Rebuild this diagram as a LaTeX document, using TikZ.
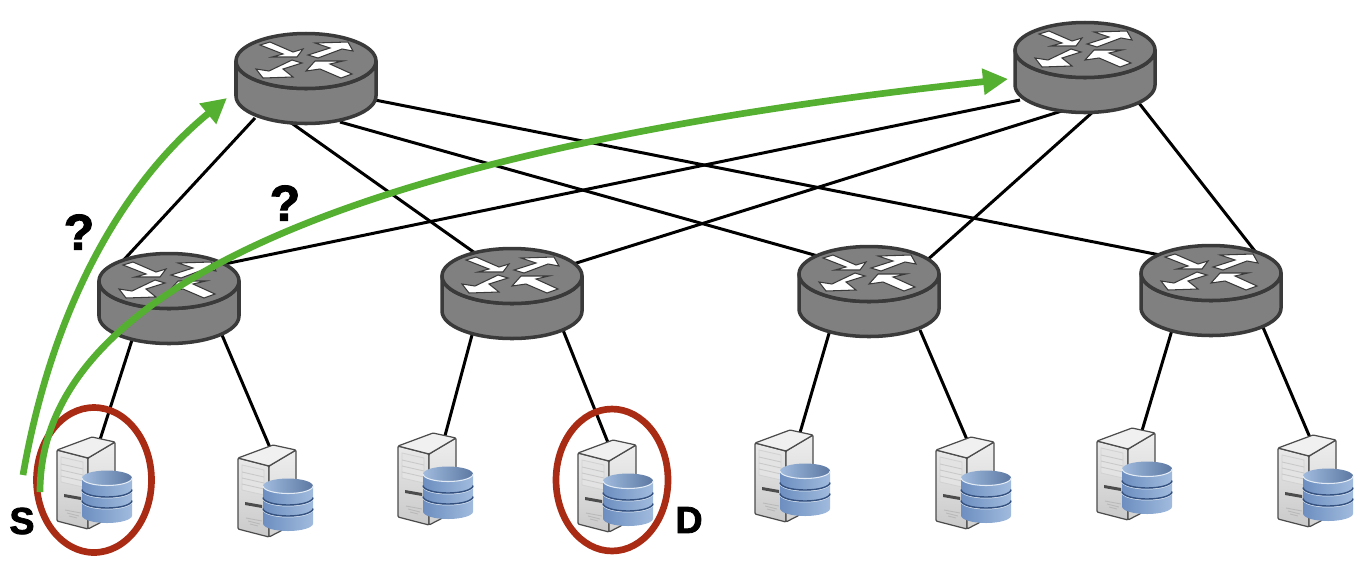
\documentclass[tikz,border=0pt]{standalone}
\usepackage{fontspec}
\setmainfont[BoldFeatures={FakeBold=2.2}]{Liberation Sans}
\usepackage{xcolor}
\usetikzlibrary{arrows.meta,shapes.geometric}
\definecolor{rtrfill}{HTML}{808080}
\definecolor{rtrline}{HTML}{3a3a3a}
\definecolor{pathgreen}{HTML}{55AF31}
\definecolor{ringred}{HTML}{A92B14}
\definecolor{dblight}{HTML}{A0BBDD}
\definecolor{dbmid}{HTML}{6D8EC0}
\definecolor{dbdark}{HTML}{3F5F94}
\definecolor{dbline}{HTML}{34517F}
\tikzset{
  router/.pic={
    \draw[rtrline, fill=rtrfill, line width=2pt, line join=round]
      (-70,-17) -- (-70,18) arc[start angle=180, end angle=0, x radius=70, y radius=27.5] -- (70,-17)
      arc[start angle=0, end angle=180, x radius=70, y radius=27.5] -- cycle;
    \draw[rtrline, fill=rtrfill, line width=2pt] (0,-17) ellipse[x radius=70, y radius=27.5];
    \filldraw[rtrarrow] (-46,-33) -- (-36,-36) -- (-13,-26) -- (-3,-29) -- (-9,-21) -- (-34,-21) -- (-23,-24) -- cycle;
    \filldraw[rtrarrow] (2,-23) -- (24,-30) -- (9,-35) -- (42,-36) -- (47,-27) -- (36,-29) -- (12,-20) -- cycle;
    \filldraw[rtrarrow] (-4,-15) -- (-23,-9) -- (-13,-1) -- (-43,0) -- (-50,-9) -- (-37,-7) -- (-14,-18) -- cycle;
    \filldraw[rtrarrow] (46,-4) -- (35,0) -- (14,-9) -- (0,-7) -- (9,-17) -- (37,-17) -- (24,-14) -- cycle;
  },
  dbserver/.pic={
    \begin{scope}[shift={(-30,-47)}]
      \draw[srvline, rounded corners=0.6pt, top color=gray!18, bottom color=gray!42] (0,13) -- (31,21) -- (31,92) -- (0,84) -- cycle;
      \draw[srvline, rounded corners=0.6pt, top color=gray!14, bottom color=gray!36] (31,21) -- (58,5) -- (58,78) -- (31,92) -- cycle;
      \draw[srvline, rounded corners=0.6pt, fill=gray!12] (0,13) -- (35,0) -- (58,5) -- (31,21) -- cycle;
      \draw[gray!35, line width=0.5pt, fill=gray!22] (4,20) -- (26,25) -- (26,50) -- (4,45) -- cycle;
      \draw[gray!42, line width=0.5pt] (4,27) -- (26,32) (4,33) -- (26,38) (4,39) -- (26,44);
      \fill[gray!60!black] (7,57) -- (24,60) -- (24,63) -- (7,60) -- cycle;
      \draw[gray!55, line width=0.5pt] (8,73) -- (24,76) (10,76) -- (22,79) (12,79) -- (20,81);
      \shade[left color=dbmid, middle color=dbdark, right color=dblight]
        (25,41) -- (25,78.5) arc[start angle=180, end angle=0, x radius=25, y radius=7.5] -- (75,41)
        arc[start angle=0, end angle=180, x radius=25, y radius=7.5] -- cycle;
      \draw[white!60!dblight, line width=0.5pt] (25,53.5) arc[start angle=180, end angle=0, x radius=25, y radius=7.5];
      \draw[white!60!dblight, line width=0.5pt] (25,64.5) arc[start angle=180, end angle=0, x radius=25, y radius=7.5];
      \draw[dbline, line width=0.8pt] (25,52.5) arc[start angle=180, end angle=0, x radius=25, y radius=7.5];
      \draw[dbline, line width=0.8pt] (25,63.5) arc[start angle=180, end angle=0, x radius=25, y radius=7.5];
      \shade[left color=dblight, right color=dbmid!85!black] (50,41) ellipse[x radius=25, y radius=7.5];
      \draw[white!70!dblight, line width=0.6pt] (25,41) arc[start angle=180, end angle=0, x radius=25, y radius=7.5];
    \end{scope}
  }
}
\begin{document}
\begin{tikzpicture}[
  x=0.02cm, y=-0.02cm,
  rtr/.style={minimum width=2.84cm, minimum height=1.8cm, inner sep=0pt},
  srv/.style={minimum width=1.2cm, minimum height=1.88cm, inner sep=0pt},
  rtrarrow/.style={draw=rtrline, fill=white, line width=0.6pt},
  srvline/.style={draw=gray!60!black, line width=0.7pt},
  link/.style={black, line width=1.7pt},
  ring/.style={draw=ringred, ellipse, line width=3.8pt, inner sep=0pt},
  route/.style={pathgreen, line width=3.8pt, -{Triangle[length=5mm, width=5mm]}},
  hostlab/.style={font=\bfseries\fontsize{21.4pt}{24pt}\selectfont, inner sep=0pt},
  ask/.style={font=\bfseries\fontsize{28.5pt}{30pt}\selectfont, inner sep=0pt}]
  \useasboundingbox (0,0) rectangle (1364,562);
  \node[rtr] (c1) at (306,78) {};
  \node[rtr] (c2) at (1085,67) {};
  \node[rtr] (e1) at (169,298) {};
  \node[rtr] (e2) at (512,293) {};
  \node[rtr] (e3) at (869,291) {};
  \node[rtr] (e4) at (1211,290) {};
  \node[srv] (s1) at (87,484) {};
  \node[srv] (s2) at (268,492) {};
  \node[srv] (s3) at (428,480) {};
  \node[srv] (s4) at (608,487) {};
  \node[srv] (s5) at (785,477) {};
  \node[srv] (s6) at (966,484) {};
  \node[srv] (s7) at (1127,475) {};
  \node[srv] (s8) at (1308,482) {};
  \draw[link] ([shift={(-51,40)}]c1.center) -- ([shift={(-50,-33)}]e1.center);
  \draw[link] ([shift={(-16,44)}]c1.center) -- ([shift={(-37,-40)}]e2.center);
  \draw[link] ([shift={(34,44)}]c1.center) -- ([shift={(-44,-33)}]e3.center);
  \draw[link] ([shift={(69,22)}]c1.center) -- ([shift={(-51,-35)}]e4.center);
  \draw[link] ([shift={(-65,33)}]c2.center) -- ([shift={(36,-30)}]e1.center);
  \draw[link] ([shift={(-20,43)}]c2.center) -- ([shift={(58,-28)}]e2.center);
  \draw[link] ([shift={(10,43)}]c2.center) -- ([shift={(56,-29)}]e3.center);
  \draw[link] ([shift={(50,31)}]c2.center) -- ([shift={(47,-35)}]e4.center);
  \draw[link] ([shift={(-37,42)}]e1.center) -- ([shift={(13,3)}]s1.north);
  \draw[link] ([shift={(53,37)}]e1.center) -- ([shift={(2,3)}]s2.north);
  \draw[link] ([shift={(-40,42)}]e2.center) -- ([shift={(17,3)}]s3.north);
  \draw[link] ([shift={(51,37)}]e2.center) -- ([shift={(0,3)}]s4.north);
  \draw[link] ([shift={(-39,39)}]e3.center) -- ([shift={(15,3)}]s5.north);
  \draw[link] ([shift={(51,39)}]e3.center) -- ([shift={(1,3)}]s6.north);
  \draw[link] ([shift={(-39,40)}]e4.center) -- ([shift={(15,3)}]s7.north);
  \draw[link] ([shift={(51,35)}]e4.center) -- ([shift={(2,3)}]s8.north);
  \pic at (c1) {router};
  \pic at (c2) {router};
  \pic at (e1) {router};
  \pic at (e2) {router};
  \pic at (e3) {router};
  \pic at (e4) {router};
  \pic at (s1) {dbserver};
  \pic at (s2) {dbserver};
  \pic at (s3) {dbserver};
  \pic at (s4) {dbserver};
  \pic at (s5) {dbserver};
  \pic at (s6) {dbserver};
  \pic at (s7) {dbserver};
  \pic at (s8) {dbserver};
  \node[ring, minimum width=2.3cm, minimum height=2.9cm] (r1) at (94,480) {};
  \node[ring, minimum width=2.24cm, minimum height=2.84cm] (r4) at (612,480) {};
  \node[hostlab] (src) at (22,521) {S};
  \node[hostlab] (dst) at (689,520) {D};
  \node[ask] (q1) at (79,232) {?};
  \node[ask] (q2) at (285,203) {?};
  \coordinate (start1) at (23,475);
  \coordinate (start2) at (40,492);
  \coordinate (end1) at (227,98);
  \coordinate (end2) at (1008,79);
  \draw[route] (start1) .. controls (50,320) and (115,190) .. (end1);
  \draw[route] (start2) .. controls (40,290) and (350,150) .. (end2);
\end{tikzpicture}
\end{document}
